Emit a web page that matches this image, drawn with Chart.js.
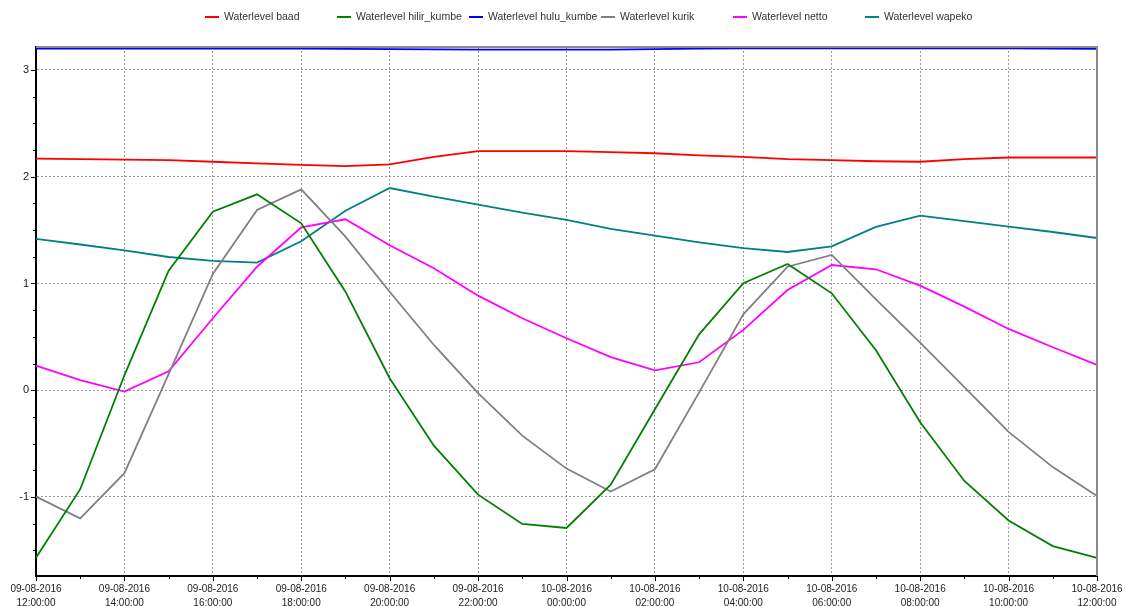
<!DOCTYPE html>
<html>
<head>
<meta charset="utf-8">
<script src="https://cdn.jsdelivr.net/npm/chart.js@4/dist/chart.umd.min.js"></script>
<style>
  html, body { margin: 0; padding: 0; background: #fff; }
  #wrap { width: 1125px; height: 606px; position: relative; }
</style>
</head>
<body>
<div id="wrap"><canvas id="c" width="1125" height="606"></canvas></div>
<script>
// Hourly time stamps
const timeLabels = [
  "09-08-2016 12:00:00", "09-08-2016 13:00:00", "09-08-2016 14:00:00", "09-08-2016 15:00:00",
  "09-08-2016 16:00:00", "09-08-2016 17:00:00", "09-08-2016 18:00:00", "09-08-2016 19:00:00",
  "09-08-2016 20:00:00", "09-08-2016 21:00:00", "09-08-2016 22:00:00", "09-08-2016 23:00:00",
  "10-08-2016 00:00:00", "10-08-2016 01:00:00", "10-08-2016 02:00:00", "10-08-2016 03:00:00",
  "10-08-2016 04:00:00", "10-08-2016 05:00:00", "10-08-2016 06:00:00", "10-08-2016 07:00:00",
  "10-08-2016 08:00:00", "10-08-2016 09:00:00", "10-08-2016 10:00:00", "10-08-2016 11:00:00",
  "10-08-2016 12:00:00"
];

// Water levels per station
const baad = [2.17, 2.165, 2.16, 2.155, 2.14, 2.125, 2.11, 2.10, 2.115, 2.185, 2.24, 2.24, 2.24,
  2.23, 2.22, 2.20, 2.185, 2.165, 2.155, 2.145, 2.14, 2.165, 2.18, 2.18, 2.18];
const hilirKumbe = [-1.57, -0.927, 0.14, 1.12, 1.672, 1.835, 1.563, 0.923, 0.112, -0.519, -0.978,
  -1.252, -1.29, -0.884, -0.178, 0.524, 1.002, 1.183, 0.908, 0.375, -0.30, -0.85, -1.22, -1.46, -1.57];
const huluKumbe = [3.20, 3.20, 3.20, 3.20, 3.20, 3.20, 3.20, 3.198, 3.195, 3.193, 3.19, 3.19, 3.19,
  3.19, 3.195, 3.20, 3.203, 3.203, 3.203, 3.203, 3.203, 3.203, 3.202, 3.20, 3.198];
const kurik = [-0.996, -1.2, -0.777, 0.15, 1.089, 1.688, 1.882, 1.438, 0.923, 0.424, -0.028, -0.425,
  -0.734, -0.949, -0.74, -0.02, 0.711, 1.157, 1.267, 0.852, 0.446, 0.03, -0.39, -0.72, -0.99];
const netto = [0.231, 0.094, -0.013, 0.178, 0.674, 1.157, 1.526, 1.601, 1.358, 1.142, 0.886, 0.674,
  0.487, 0.31, 0.187, 0.262, 0.565, 0.939, 1.173, 1.133, 0.98, 0.783, 0.574, 0.403, 0.237];
const wapeko = [1.417, 1.365, 1.311, 1.248, 1.211, 1.195, 1.395, 1.682, 1.894, 1.813, 1.738, 1.663,
  1.595, 1.512, 1.448, 1.386, 1.332, 1.295, 1.348, 1.53, 1.635, 1.585, 1.532, 1.482, 1.426];

const seriesNames = ["Waterlevel baad", "Waterlevel hilir_kumbe", "Waterlevel hulu_kumbe",
  "Waterlevel kurik", "Waterlevel netto", "Waterlevel wapeko"];
const seriesValues = [baad, hilirKumbe, huluKumbe, kurik, netto, wapeko];
const seriesColors = ["#ff0000", "#008000", "#0000ff", "#808080", "#ff00ff", "#008080"];

const yMin = -1.74, yMax = 3.215;
const FONT = "'Liberation Sans', Arial, sans-serif";

// Legend row, axis frame and minor tick marks
const framePlugin = {
  id: 'frame',
  afterDraw(chart) {
    const ctx = chart.ctx;
    const a = chart.chartArea;
    const xs = chart.scales.x, ys = chart.scales.y;
    ctx.save();
    // grey top and right edges
    ctx.strokeStyle = '#8a8a8a';
    ctx.lineWidth = 2;
    ctx.beginPath();
    ctx.moveTo(a.left, a.top);
    ctx.lineTo(a.right, a.top);
    ctx.lineTo(a.right, a.bottom);
    ctx.stroke();
    // tick marks outside the axes
    ctx.strokeStyle = '#000';
    ctx.lineWidth = 1;
    ctx.beginPath();
    for (let i = 0; i < timeLabels.length; i++) {
      const px = Math.round(xs.getPixelForValue(i)) + 0.5;
      const len = i % 2 === 0 ? 5 : 3;
      ctx.moveTo(px, a.bottom);
      ctx.lineTo(px, a.bottom + len);
    }
    for (let q = Math.ceil(yMin * 4); q <= Math.floor(yMax * 4); q++) {
      const py = Math.round(ys.getPixelForValue(q / 4)) + 0.5;
      const len = q % 4 === 0 ? 5 : 3;
      ctx.moveTo(a.left, py);
      ctx.lineTo(a.left - len, py);
    }
    ctx.stroke();
    // legend
    ctx.font = '10.5px ' + FONT;
    ctx.textBaseline = 'middle';
    ctx.textAlign = 'left';
    const legendX = 205, legendStep = 132, legendY = 17;
    seriesNames.forEach((name, k) => {
      const lx = legendX + k * legendStep;
      ctx.strokeStyle = seriesColors[k];
      ctx.lineWidth = 2;
      ctx.beginPath();
      ctx.moveTo(lx, legendY);
      ctx.lineTo(lx + 14, legendY);
      ctx.stroke();
      ctx.fillStyle = '#333';
      ctx.fillText(name, lx + 19, legendY);
    });
    ctx.restore();
  }
};

new Chart(document.getElementById('c'), {
  type: 'line',
  data: {
    labels: timeLabels,
    datasets: seriesNames.map((name, k) => ({
      label: name,
      data: seriesValues[k],
      borderColor: seriesColors[k],
      backgroundColor: seriesColors[k],
      borderWidth: 1.8,
      pointRadius: 0,
      tension: 0,
      fill: false
    }))
  },
  options: {
    responsive: false,
    animation: false,
    layout: { padding: { top: 47, right: 28, left: 0, bottom: 0 } },
    plugins: {
      legend: { display: false },
      tooltip: { enabled: false }
    },
    scales: {
      x: {
        type: 'category',
        offset: false,
        afterFit(scale) {
          scale.height = 30;
          scale.paddingLeft = 0;
          scale.paddingRight = 0;
        },
        grid: {
          drawTicks: false,
          color: c => (c.index % 2 === 0 ? '#9a9a9a' : 'rgba(0,0,0,0)'),
          lineWidth: 1
        },
        border: { display: true, color: '#000', width: 2, dash: [2, 2] },
        ticks: {
          autoSkip: false,
          maxRotation: 0,
          minRotation: 0,
          padding: 6,
          color: '#222',
          font: { family: FONT, size: 10, lineHeight: 1.4 },
          callback: (v, i) => (i % 2 === 0 ? timeLabels[i].split(' ') : '')
        }
      },
      y: {
        min: yMin,
        max: yMax,
        afterFit(scale) {
          scale.width = 36;
          scale.paddingTop = 0;
          scale.paddingBottom = 0;
        },
        grid: { drawTicks: false, color: '#9a9a9a', lineWidth: 1 },
        border: { display: true, color: '#000', width: 2, dash: [2, 2] },
        ticks: {
          stepSize: 1,
          includeBounds: false,
          padding: 7,
          color: '#222',
          font: { family: FONT, size: 11 }
        }
      }
    }
  },
  plugins: [framePlugin]
});
</script>
</body>
</html>
